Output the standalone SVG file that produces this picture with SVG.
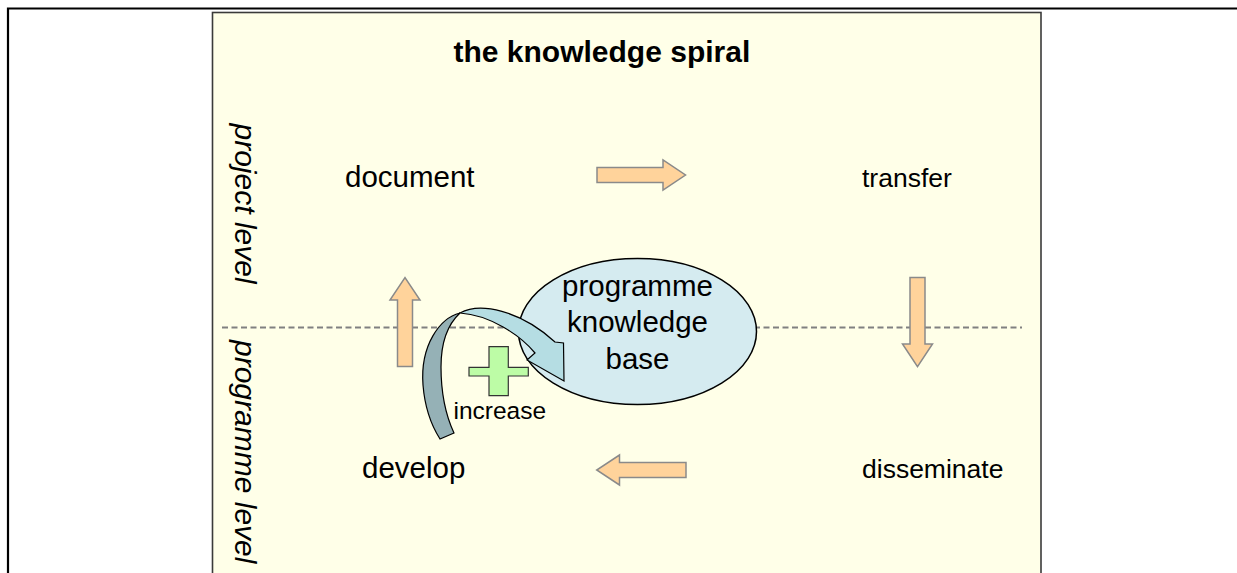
<svg xmlns="http://www.w3.org/2000/svg" width="1237" height="573" viewBox="0 0 1237 573">
<style>
.lbl{font-family:"Liberation Sans",Arial,sans-serif;font-size:29.5px;fill:#000}
.lbl2{font-family:"Liberation Sans",Arial,sans-serif;font-size:26.5px;fill:#000}
.vert{font-family:"Liberation Sans",Arial,sans-serif;font-size:30px;font-style:italic;fill:#000}
.title{font-family:"Liberation Sans",Arial,sans-serif;font-size:30px;font-weight:bold;fill:#000}
.blk{fill:#ffd39b;stroke:#8a8a8a;stroke-width:1.5}
</style>
<rect x="0" y="0" width="1237" height="573" fill="#ffffff"/>
<path d="M8,580 L8,8.5 L1240,8.5" fill="none" stroke="#000" stroke-width="2.2"/>
<rect id="panel" x="212.5" y="12.5" width="828.5" height="580" fill="#ffffe8" stroke="#3a3a3a" stroke-width="1.6"/>
<g id="title"><text class="title" x="453.5" y="62">the knowledge spiral</text></g>
<line id="level-divider" x1="222" y1="327.5" x2="1022" y2="327.5" stroke="#808080" stroke-width="2" stroke-dasharray="6 3.5"/>
<g id="level-labels">
<text class="vert" transform="translate(235,123.5) rotate(90)">project level</text>
<text class="vert" transform="translate(235,340) rotate(90)">programme level</text>
</g>
<g id="connectors">
<polygon class="blk" points="597,167.5 663,167.5 663,160 685.5,175 663,190 663,182.5 597,182.5"/>
<polygon class="blk" points="910,277.5 925,277.5 925,344 932.5,344 917.5,366.7 902.5,344 910,344"/>
<polygon class="blk" points="686,462.5 619.5,462.5 619.5,455 596.7,470 619.5,485 619.5,477.5 686,477.5"/>
<polygon class="blk" points="397.5,366.5 397.5,300 390,300 405,277.5 420,300 412.5,300 412.5,366.5"/>
</g>
<g id="knowledge-base">
<ellipse cx="637.5" cy="331.5" rx="119" ry="73" fill="#d5ebf0" stroke="#000" stroke-width="1.5"/>
<text class="lbl" text-anchor="middle" x="637.5" y="296">programme</text>
<text class="lbl" text-anchor="middle" x="637.5" y="332">knowledge</text>
<text class="lbl" text-anchor="middle" x="637.5" y="369">base</text>
</g>
<g id="increase-arrow">
<path d="M460,313 C440,318 420,345 423,385 C425,410 433,428 440,439 L454,433 C447,418 441,395 441,367 C441,345 447,325 460,313 Z" fill="#95b1b6" stroke="#000" stroke-width="1.2"/>
<path d="M460,313 C480,302 520,310 555,342 L563.5,343 L564,381 L527,360 L535,353 C520,335 490,315 460,313 Z" fill="#b5dde3" stroke="#000" stroke-width="1.2"/>
</g>
<g id="increase">
<polygon points="489,346.7 508.3,346.7 508.3,367.3 528.3,367.3 528.3,376 508.3,376 508.3,395.7 489,395.7 489,376 469,376 469,367.3 489,367.3" fill="#bdfca6" stroke="#333" stroke-width="1.2"/>
<text x="453.5" y="419" style="font-family:'Liberation Sans',Arial,sans-serif;font-size:24.5px;fill:#000">increase</text>
</g>
<g id="document"><text class="lbl" x="345" y="187">document</text></g>
<g id="transfer"><text class="lbl2" x="862" y="187">transfer</text></g>
<g id="develop"><text class="lbl" x="362" y="478">develop</text></g>
<g id="disseminate"><text class="lbl2" x="862" y="478">disseminate</text></g>
</svg>
